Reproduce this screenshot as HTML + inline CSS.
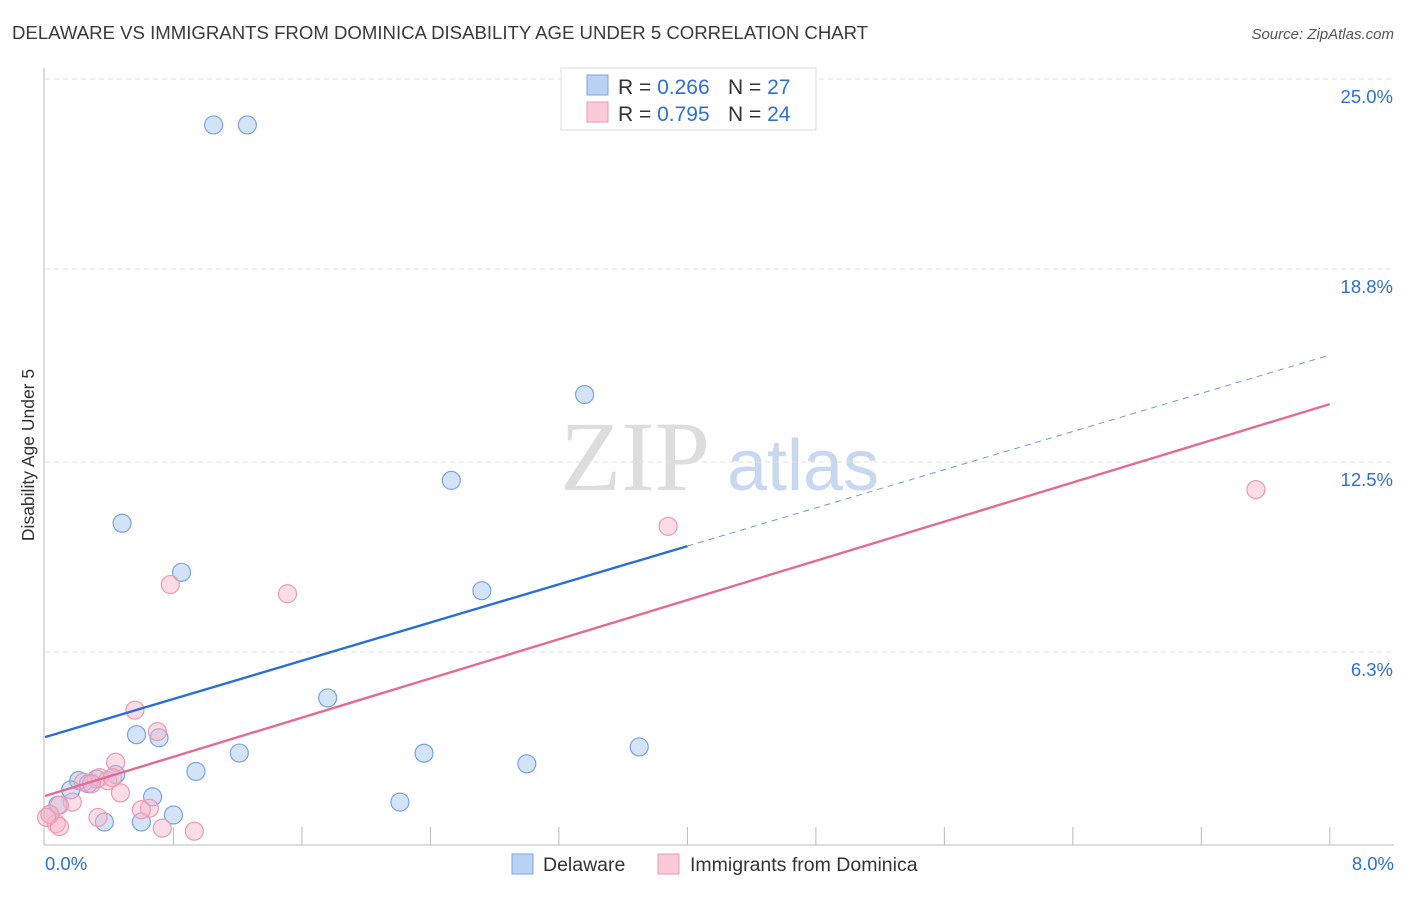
<!DOCTYPE html>
<html><head><meta charset="utf-8"><style>
body{margin:0;background:#fff;font-family:"Liberation Sans",sans-serif}
</style></head><body>
<svg id="chart" width="1406" height="892" xmlns="http://www.w3.org/2000/svg" font-family="Liberation Sans, sans-serif">
<text x="12" y="39" font-size="18.6" fill="#3a3a3a">DELAWARE VS IMMIGRANTS FROM DOMINICA DISABILITY AGE UNDER 5 CORRELATION CHART</text>
<text x="1394" y="39" font-size="15" fill="#555" font-style="italic" text-anchor="end">Source: ZipAtlas.com</text>
<text transform="translate(34,455) rotate(-90)" font-size="17.5" fill="#333" text-anchor="middle">Disability Age Under 5</text>
<g><text x="635" y="490" font-size="100" fill="#ddd" font-family="Liberation Serif, serif" text-anchor="middle">ZIP</text><text x="803" y="490" font-size="72" fill="#c8d8f0" text-anchor="middle">atlas</text></g>
<g id="grid"></g><g id="axes"></g><g id="pts"></g><g id="lines"></g>
<g>
<rect x="561" y="68" width="255" height="62" fill="#fff" stroke="#ddd"/>
<rect x="587" y="75" width="21" height="20" fill="#b9d3f5" stroke="#7aa4e0"/>
<rect x="587" y="102" width="21" height="20" fill="#fbcad8" stroke="#ec9ab4"/>
<text x="618" y="94" font-size="21" fill="#333">R = <tspan fill="#2f6fd6">0.266</tspan><tspan x="728">N = </tspan><tspan fill="#2f6fd6">27</tspan></text>
<text x="618" y="121" font-size="21" fill="#333">R = <tspan fill="#2f6fd6">0.795</tspan><tspan x="728">N = </tspan><tspan fill="#2f6fd6">24</tspan></text>
</g>
<g>
<rect x="512" y="854" width="21" height="20" fill="#b9d3f5" stroke="#7aa4e0"/>
<text x="543" y="871" font-size="19.5" fill="#333">Delaware</text>
<rect x="658" y="854" width="21" height="20" fill="#fbcad8" stroke="#ec9ab4"/>
<text x="690" y="871" font-size="19.5" fill="#333">Immigrants from Dominica</text>
</g>
<text x="45" y="870" font-size="18.5" fill="#2f6fd6">0.0%</text>
<text x="1394" y="870" font-size="18.5" fill="#2f6fd6" text-anchor="end">8.0%</text>
</svg>
<script>
const yTicks=[25.0,18.8,12.5,6.3];
const yTickLabels=["25.0%","18.8%","12.5%","6.3%"];
const blueX=[1.05,1.26,3.36,2.53,0.48,0.85,2.72,1.76,0.57,0.71,1.21,2.36,3.70,3.0,0.94,0.44,0.21,0.32,0.27,0.16,0.67,2.21,0.08,0.80,0.60,0.37,0.03];
const blueY=[23.5,23.5,14.7,11.9,10.5,8.9,8.3,4.8,3.6,3.5,3.0,2.995,3.2,2.65,2.4,2.3,2.1,2.15,2.0,1.8,1.57,1.4,1.3,0.98,0.75,0.75,1.0];
const pinkX=[7.54,3.88,0.78,1.51,0.56,0.70,0.44,0.34,0.39,0.24,0.29,0.47,0.17,0.09,0.65,0.60,0.33,0.73,0.93,0.07,0.03,0.09,0.42,0.01];
const pinkY=[11.6,10.4,8.5,8.2,4.4,3.7,2.7,2.2,2.1,2.05,2.0,1.7,1.4,1.3,1.2,1.15,0.9,0.55,0.45,0.7,1.0,0.6,2.2,0.9];
const blueFit=[3.52,15.99], pinkFit=[1.60,14.39];
const X=v=>45+v*160.6, Y=v=>845-v*30.64;
const NS="http://www.w3.org/2000/svg";
function mk(t,a,p){const e=document.createElementNS(NS,t);for(const k in a)e.setAttribute(k,a[k]);p.appendChild(e);return e;}
const grid=document.getElementById('grid'),axes=document.getElementById('axes'),pts=document.getElementById('pts'),lines=document.getElementById('lines');
yTicks.forEach((v,i)=>{const l=mk('line',{x1:45,x2:1394,y1:Y(v),y2:Y(v),stroke:'#e2e2e2','stroke-dasharray':'5,4'},grid);


const t=mk('text',{x:1393,y:Y(v)+24,'font-size':18.5,fill:'#2f6fd6','text-anchor':'end'},grid);t.textContent=yTickLabels[i];

});
mk('line',{x1:44,x2:44,y1:68,y2:845,stroke:'#bbb'},axes);
mk('line',{x1:44,x2:1394,y1:845,y2:845,stroke:'#bbb'},axes);
for(let i=1;i<=10;i++){const x=X(i*0.8);const tk=mk('line',{x1:x,x2:x,y1:827,y2:845,stroke:'#bbb'},axes);

}
function dots(xs,ys,fill,stroke,name){xs.forEach((v,i)=>{const c=mk('circle',{cx:X(v),cy:Y(ys[i]),r:9,fill:fill,stroke:stroke,'stroke-width':1.2},pts);

});}
dots(blueX,blueY,'rgba(160,196,240,0.45)','#7aa4e0','delaware-point');
dots(pinkX,pinkY,'rgba(248,180,200,0.45)','#ec9ab4','dominica-point');
const bx=4.0,by=blueFit[0]+(blueFit[1]-blueFit[0])*bx/8;
let l1=mk('line',{x1:X(0),y1:Y(blueFit[0]),x2:X(bx),y2:Y(by),stroke:'#2a6fd8','stroke-width':2.4},lines);


let l2=mk('line',{x1:X(bx),y1:Y(by),x2:X(7.98),y2:Y(blueFit[0]+(blueFit[1]-blueFit[0])*7.98/8),stroke:'#6e9ade','stroke-width':1,'stroke-dasharray':'6,5'},lines);


let l3=mk('line',{x1:X(0),y1:Y(pinkFit[0]),x2:X(8),y2:Y(pinkFit[1]),stroke:'#e46b93','stroke-width':2.4},lines);


</script>
</body></html>
